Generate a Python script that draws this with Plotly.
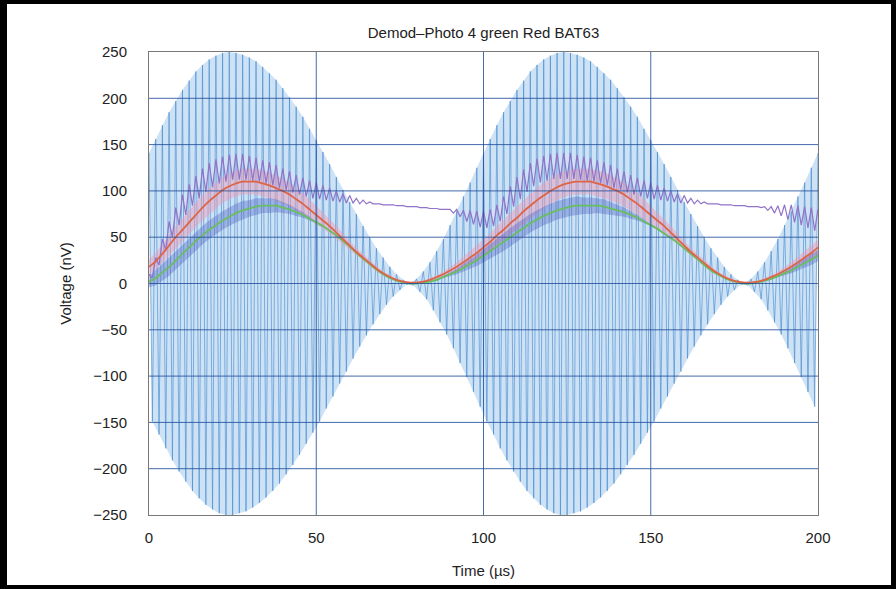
import plotly.graph_objects as go

# ---- data -------------------------------------------------------------
# carrier samples, 1 us apart: crests at even microseconds, troughs at odd ones
carrier_crest_t = list(range(0, 201, 2))
carrier_crest = [141, 156, 171, 185, 197, 209, 219, 229, 236, 242, 246, 249, 250, 249, 247, 244, 240, 234, 227, 220,
                 211, 201, 191, 180, 167, 155, 142, 129, 115, 101, 88, 75, 62, 50, 38, 28, 18, 10, 4, 0,
                 5, 13, 23, 35, 48, 63, 78, 94, 109, 125,
                 141, 156, 171, 185, 197, 209, 219, 229, 236, 242, 246, 249, 250, 249, 247, 244, 240, 234, 227, 220,
                 211, 201, 191, 180, 167, 155, 142, 129, 115, 101, 88, 75, 62, 50, 38, 28, 18, 10, 4, 0,
                 5, 13, 23, 35, 48, 63, 78, 94, 109, 125, 141]
carrier_trough_t = list(range(1, 200, 2))
carrier_trough = [-149, -163, -178, -191, -203, -214, -224, -232, -239, -244, -248, -250, -250, -248, -246, -242,
                  -237, -231, -224, -216, -206, -196, -185, -173, -161, -149, -135, -122, -108, -95, -81, -68,
                  -56, -44, -33, -23, -14, -7, -1, -2, -9, -17, -29, -42, -55, -70, -86, -101, -117, -133,
                  -149, -163, -178, -191, -203, -214, -224, -232, -239, -244, -248, -250, -250, -248, -246, -242,
                  -237, -231, -224, -216, -206, -196, -185, -173, -161, -149, -135, -122, -108, -95, -81, -68,
                  -56, -44, -33, -23, -14, -7, -1, -2, -9, -17, -29, -42, -55, -70, -86, -101, -117, -133]

# diode output with carrier ripple, 1 us apart
diode_t = list(range(0, 201))
diode_out = [10, 6, 28, 20, 48, 36, 67, 50, 82, 63, 96, 74, 107, 84, 116, 92, 124, 99, 130, 104,
             134, 108, 137, 110, 139, 112, 140, 112, 140, 112, 138, 111, 136, 110, 133, 108, 131, 106, 128, 103,
             124, 101, 121, 98, 117, 96, 114, 94, 111, 92, 109, 91, 106, 90, 103, 89, 100, 88, 97, 87,
             95, 87, 92, 86, 90, 86, 88, 86, 86, 86, 85, 85, 85, 85, 84, 84, 84, 83, 83, 83,
             83, 82, 82, 82, 81, 81, 81, 80, 80, 80, 80, 76, 80, 72, 79, 67, 79, 64, 78, 61,
             78, 60, 80, 62, 85, 67, 94, 75, 105, 83, 115, 91, 123, 99, 130, 105, 135, 109, 138, 111,
             140, 113, 141, 113, 141, 113, 141, 113, 139, 112, 137, 111, 136, 110, 133, 108, 131, 106, 128, 103,
             124, 101, 121, 98, 117, 96, 114, 94, 111, 92, 109, 91, 106, 90, 103, 89, 100, 88, 97, 87,
             95, 87, 92, 86, 90, 86, 88, 86, 86, 86, 86, 85, 85, 85, 85, 84, 84, 84, 84, 83,
             83, 83, 83, 82, 83, 79, 83, 76, 84, 73, 85, 69, 85, 66, 84, 63, 83, 60, 82, 57, 80]

# filtered outputs, 2 us apart
filt_t = list(range(0, 201, 2))
red_out = [18, 24, 32, 41, 50, 58, 66, 74, 82, 89, 95, 101, 105, 108, 110, 110, 110, 108, 106, 103,
           100, 96, 91, 86, 80, 74, 68, 62, 55, 48, 41, 34, 28, 22, 16, 11, 7, 4, 2, 1,
           1, 2, 4, 7, 10, 14, 18, 23, 28, 33, 39, 45, 52, 58, 65, 71, 78, 84, 90, 95,
           100, 104, 107, 109, 110, 110, 110, 108, 106, 103, 100, 96, 91, 86, 80, 74, 68, 62, 55, 48,
           41, 34, 28, 22, 16, 11, 7, 4, 2, 1, 1, 2, 4, 7, 10, 14, 18, 23, 28, 33, 39]
green_out = [2, 6, 12, 18, 25, 32, 39, 46, 52, 58, 63, 68, 72, 76, 79, 81, 83, 84, 84, 84,
             82, 80, 77, 74, 70, 66, 62, 57, 52, 46, 40, 33, 27, 21, 15, 10, 6, 3, 1, 0,
             0, 1, 2, 4, 7, 10, 13, 17, 21, 25, 30, 35, 40, 45, 50, 55, 60, 65, 69, 73,
             76, 79, 81, 83, 84, 84, 84, 84, 83, 81, 79, 77, 74, 71, 67, 63, 59, 54, 49, 44,
             38, 32, 26, 20, 14, 10, 6, 3, 1, 0, 0, 1, 3, 5, 8, 11, 14, 18, 22, 26, 30]
# half-height of the ripple riding on each filtered output
red_ripple = [8, 9, 10, 11, 12, 12, 13, 13, 14, 14, 14, 14, 14, 14, 14, 14, 14, 14, 14, 14,
              13, 13, 12, 12, 11, 10, 9, 8, 7, 6, 5, 4, 4, 3, 3, 2, 2, 1, 1, 1,
              1, 1, 2, 2, 3, 4, 5, 6, 7, 8, 8, 9, 10, 11, 12, 12, 13, 13, 14, 14,
              14, 14, 14, 14, 14, 14, 14, 14, 14, 14, 13, 13, 12, 12, 11, 10, 9, 8, 7, 6,
              5, 4, 4, 3, 3, 2, 2, 1, 1, 1, 1, 1, 2, 2, 3, 4, 5, 6, 7, 8, 8]
green_ripple = [6, 8, 9, 10, 10, 10, 10, 10, 10, 10, 10, 10, 10, 10, 10, 9, 9, 8, 8, 7,
                6, 5, 4, 3, 2, 1, 1, 0, 0, 0, 0, 0, 0, 0, 0, 0, 0, 0, 0, 0,
                0, 0, 0, 1, 1, 2, 3, 4, 5, 6, 7, 8, 9, 10, 10, 10, 10, 10, 10, 10,
                10, 10, 10, 10, 10, 9, 9, 8, 8, 7, 6, 5, 4, 3, 2, 1, 1, 0, 0, 0,
                0, 0, 0, 0, 0, 0, 0, 0, 0, 0, 0, 0, 0, 1, 1, 2, 3, 4, 5, 6, 6]

x_ticks = [0, 50, 100, 150, 200]
y_ticks = [-250, -200, -150, -100, -50, 0, 50, 100, 150, 200, 250]
y_tick_text = ["\u2212250", "\u2212200", "\u2212150", "\u2212100", "\u221250", "0", "50", "100", "150", "200", "250"]

# ---- figure -----------------------------------------------------------
W, H = 896, 589
L, R, T, B = 149, 818, 52, 515          # plot area in pixels
FONT = "Liberation Sans, Arial, sans-serif"

fig = go.Figure()

# light fill inside the carrier envelope
fig.add_trace(go.Scatter(x=carrier_crest_t, y=carrier_crest, mode="lines",
                         line=dict(width=0, color="rgba(0,0,0,0)"), hoverinfo="skip", showlegend=False))
fig.add_trace(go.Scatter(x=carrier_trough_t, y=carrier_trough, mode="lines", fill="tonexty",
                         fillcolor="rgba(165,203,238,0.55)",
                         line=dict(width=0, color="rgba(0,0,0,0)"), hoverinfo="skip", showlegend=False))

# carrier waveform: crests and troughs in time order
pairs = sorted(list(zip(carrier_crest_t, carrier_crest)) + list(zip(carrier_trough_t, carrier_trough)))
fig.add_trace(go.Scatter(x=[p[0] for p in pairs], y=[p[1] for p in pairs], mode="lines",
                         line=dict(width=0.9, color="rgba(70,138,206,0.7)", simplify=False),
                         showlegend=False))

# ripple bands on the filtered outputs
def band(center, half, color):
    up = [c + h for c, h in zip(center, half)]
    lo = [c - h for c, h in zip(center, half)]
    fig.add_trace(go.Scatter(x=filt_t, y=up, mode="lines", line=dict(width=0, color="rgba(0,0,0,0)"),
                             hoverinfo="skip", showlegend=False))
    fig.add_trace(go.Scatter(x=filt_t, y=lo, mode="lines", fill="tonexty", fillcolor=color,
                             line=dict(width=0, color="rgba(0,0,0,0)"), hoverinfo="skip", showlegend=False))

band(red_out, red_ripple, "rgba(238,150,180,0.45)")
band(green_out, green_ripple, "rgba(70,90,190,0.35)")

# diode output
fig.add_trace(go.Scatter(x=diode_t, y=diode_out, mode="lines",
                         line=dict(width=1.2, color="rgb(145,115,200)", simplify=False), showlegend=False))
# filtered outputs
fig.add_trace(go.Scatter(x=filt_t, y=green_out, mode="lines",
                         line=dict(width=1.8, color="rgb(105,190,95)", shape="spline"), showlegend=False))
fig.add_trace(go.Scatter(x=filt_t, y=red_out, mode="lines",
                         line=dict(width=1.8, color="rgb(222,100,70)", shape="spline"), showlegend=False))

# grid drawn over the traces
grid_col = "rgba(35,80,155,0.85)"
shapes = []
for xv in x_ticks[1:-1]:
    shapes.append(dict(type="line", xref="x", yref="paper", x0=xv, x1=xv, y0=0, y1=1,
                       line=dict(color=grid_col, width=1), layer="above"))
for yv in y_ticks[1:-1]:
    shapes.append(dict(type="line", xref="paper", yref="y", x0=0, x1=1, y0=yv, y1=yv,
                       line=dict(color=grid_col, width=1), layer="above"))

# heavy black frame around the whole figure
def px_x(p):
    return (p - L) / (R - L)

def px_y(p):
    return (B - p) / (B - T)

for (x0, y0, x1, y1) in [(0, 0, 7, H), (891, 0, W, H), (0, 0, W, 4), (0, 585, W, H)]:
    shapes.append(dict(type="rect", xref="paper", yref="paper",
                       x0=px_x(x0), x1=px_x(x1), y0=px_y(y1), y1=px_y(y0),
                       fillcolor="black", line=dict(width=0), layer="above"))

fig.update_layout(
    width=W, height=H,
    margin=dict(l=L, r=W - R, t=T, b=H - B, pad=0),
    paper_bgcolor="white", plot_bgcolor="white",
    font=dict(family=FONT, size=15, color="#222"),
    title=dict(text="Demod\u2013Photo 4 green Red BAT63", x=(L + R) / 2 / W, xanchor="center",
               y=1 - 33 / H, yanchor="middle", font=dict(size=15)),
    shapes=shapes,
    showlegend=False,
)
fig.update_xaxes(range=[0, 200], tickvals=x_ticks, showgrid=False, zeroline=False,
                 showline=True, mirror=True, linecolor="rgb(120,120,120)", linewidth=1,
                 ticks="", ticklabelstandoff=9,
                 title=dict(text="Time (\u00b5s)", standoff=20, font=dict(size=15)))
fig.update_yaxes(range=[-250, 250], tickvals=y_ticks, ticktext=y_tick_text, showgrid=False, zeroline=False,
                 showline=True, mirror=True, linecolor="rgb(120,120,120)", linewidth=1,
                 ticks="", ticklabelstandoff=18,
                 title=dict(text="Voltage (nV)", standoff=17, font=dict(size=15)))

fig.write_html("out.html")
